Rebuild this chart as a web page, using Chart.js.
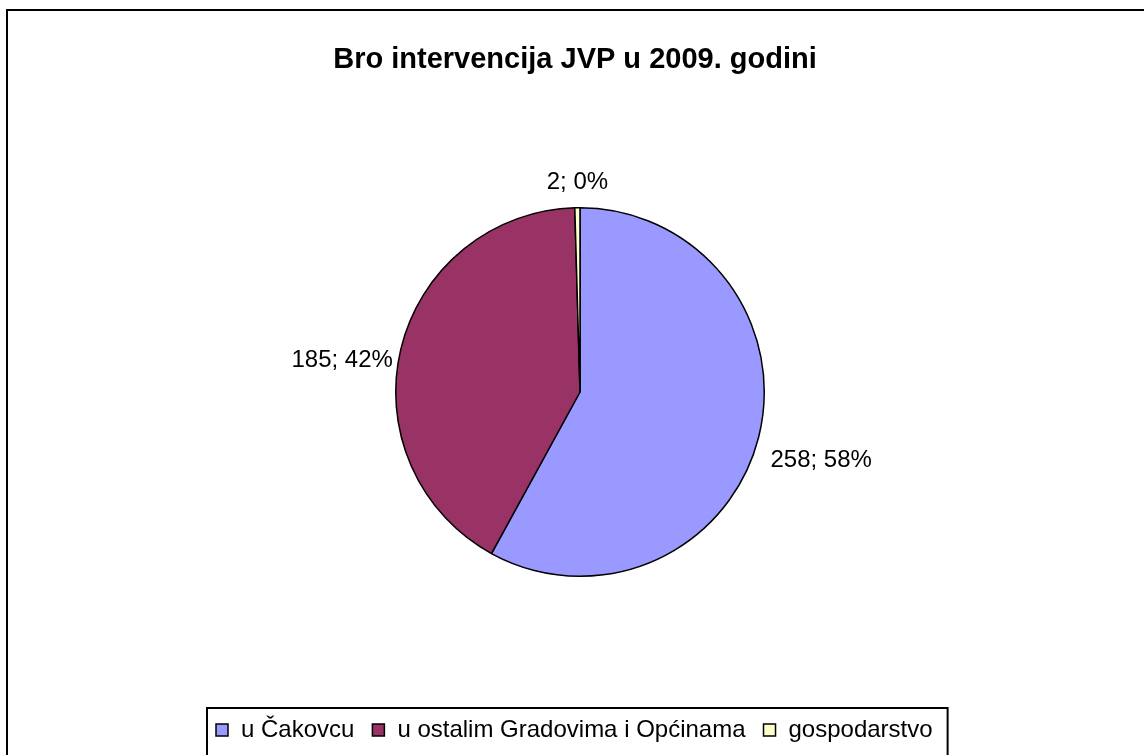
<!DOCTYPE html>
<html>
<head>
<meta charset="utf-8">
<script src="https://cdn.jsdelivr.net/npm/chart.js@4.4.1/dist/chart.umd.min.js"></script>
<style>
  html, body { margin: 0; padding: 0; background: #fff; }
  canvas { display: block; }
</style>
</head>
<body>
<canvas id="pie-chart" width="1144" height="755"></canvas>
<script>
// Podaci
const chartTitle = 'Bro intervencija JVP u 2009. godini';
const categories = ['u Čakovcu', 'u ostalim Gradovima i Općinama', 'gospodarstvo'];
const values = [258, 185, 2];

const colors = ['#9999FF', '#993366', '#FFFFCC'];
const labelOffsets = [[12, 29], [-8, 18], [0, -19]];
const FONT = '"Liberation Sans", Arial, sans-serif';

// Okvir, naslov, oznake i legenda
const excelPlugin = {
    id: 'excelLook',
    afterDatasetsDraw(chart) {
        const ctx = chart.ctx;
        const total = values.reduce((a, b) => a + b, 0);
        ctx.save();

        // vanjski okvir
        ctx.strokeStyle = '#000';
        ctx.lineWidth = 2;
        ctx.strokeRect(7, 10, 1160, 780);

        // naslov
        ctx.fillStyle = '#000';
        ctx.font = 'bold 29px ' + FONT;
        ctx.textAlign = 'center';
        ctx.textBaseline = 'alphabetic';
        ctx.fillText(chartTitle, 575, 68);

        // oznake podataka
        ctx.font = '24px ' + FONT;
        chart.getDatasetMeta(0).data.forEach((arc, i) => {
            const p = arc.getProps(['x', 'y', 'startAngle', 'endAngle', 'outerRadius'], true);
            const mid = (p.startAngle + p.endAngle) / 2;
            const ex = p.x + Math.cos(mid) * p.outerRadius;
            const ey = p.y + Math.sin(mid) * p.outerRadius;
            const dx = labelOffsets[i][0];
            ctx.textAlign = dx > 0 ? 'left' : (dx < 0 ? 'right' : 'center');
            const pct = Math.round(values[i] / total * 100);
            ctx.fillText(values[i] + '; ' + pct + '%', ex + dx, ey + labelOffsets[i][1]);
        });

        // legenda
        const boxLeft = 207, boxTop = 708;
        const marker = 12, gapText = 13, gapItem = 18, pad = 9;
        ctx.textAlign = 'left';
        let x = boxLeft + pad;
        categories.forEach((cat, i) => {
            ctx.fillStyle = colors[i];
            ctx.fillRect(x, 724, marker, marker);
            ctx.strokeStyle = '#000';
            ctx.lineWidth = 1.5;
            ctx.strokeRect(x, 724, marker, marker);
            x += marker + gapText;
            ctx.fillStyle = '#000';
            ctx.fillText(cat, x, 737);
            x += ctx.measureText(cat).width + gapItem;
        });
        const boxRight = x - gapItem + pad + 6;
        ctx.strokeStyle = '#000';
        ctx.lineWidth = 2;
        ctx.strokeRect(boxLeft, boxTop, boxRight - boxLeft, 60);
        ctx.restore();
    }
};

const pieChart = new Chart(document.getElementById('pie-chart'), {
    type: 'pie',
    data: {
        labels: categories,
        datasets: [{
            data: values,
            backgroundColor: colors,
            borderColor: '#000',
            borderWidth: 1.5,
            hoverOffset: 0
        }]
    },
    options: {
        responsive: false,
        animation: false,
        layout: {
            padding: { top: 207, bottom: 178, left: 16, right: 0 }
        },
        plugins: {
            legend: { display: false },
            title: { display: false },
            tooltip: { enabled: false }
        }
    },
    plugins: [excelPlugin]
});
</script>
</body>
</html>
